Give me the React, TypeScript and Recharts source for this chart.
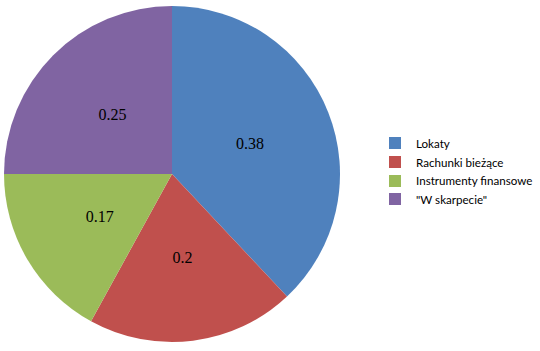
import { Cell, Legend, Pie, PieChart } from "recharts";

const names = ["Lokaty", "Rachunki bieżące", "Instrumenty finansowe", '"W skarpecie"'];
const values = [0.38, 0.2, 0.17, 0.25];
const colors = ["#4F81BD", "#C0504D", "#9BBB59", "#8064A2"];

const data = names.map((name, i) => ({ name, value: values[i] }));

const RADIAN = Math.PI / 180;

const renderLabel = (props: any) => {
  const { cx, cy, midAngle, outerRadius, value } = props;
  const r = outerRadius * 0.5;
  const x = cx + r * Math.cos(-midAngle * RADIAN);
  const y = cy + r * Math.sin(-midAngle * RADIAN);
  return (
    <text
      x={x}
      y={y}
      textAnchor="middle"
      dominantBaseline="central"
      fill="#000"
      style={{ fontFamily: "'Liberation Serif', 'DejaVu Serif', serif", fontSize: 16 }}
    >
      {value}
    </text>
  );
};

const renderLegend = () => (
  <div style={{ fontFamily: "Lato, 'Open Sans', sans-serif", fontSize: 11.6, color: "#000" }}>
    {names.map((n, i) => (
      <div key={n} style={{ display: "flex", alignItems: "center", height: 18.7 }}>
        <span
          style={{
            display: "inline-block",
            width: 12,
            height: 12,
            background: colors[i],
            marginRight: 15,
          }}
        />
        <span>{n}</span>
      </div>
    ))}
  </div>
);

export default function App() {
  return (
    <div style={{ position: "absolute", left: 0, top: 0, background: "#fff" }}>
      <PieChart width={540} height={351} margin={{ top: 0, right: 0, bottom: 0, left: 0 }}>
        <Pie
          data={data}
          dataKey="value"
          nameKey="name"
          cx={172}
          cy={174}
          outerRadius={168}
          startAngle={90}
          endAngle={-270}
          stroke="none"
          label={renderLabel}
          labelLine={false}
          isAnimationActive={false}
        >
          {data.map((d, i) => (
            <Cell key={d.name} fill={colors[i]} />
          ))}
        </Pie>
        <Legend
          content={renderLegend}
          wrapperStyle={{ left: 389, top: 134, width: 150 }}
        />
      </PieChart>
    </div>
  );
}
